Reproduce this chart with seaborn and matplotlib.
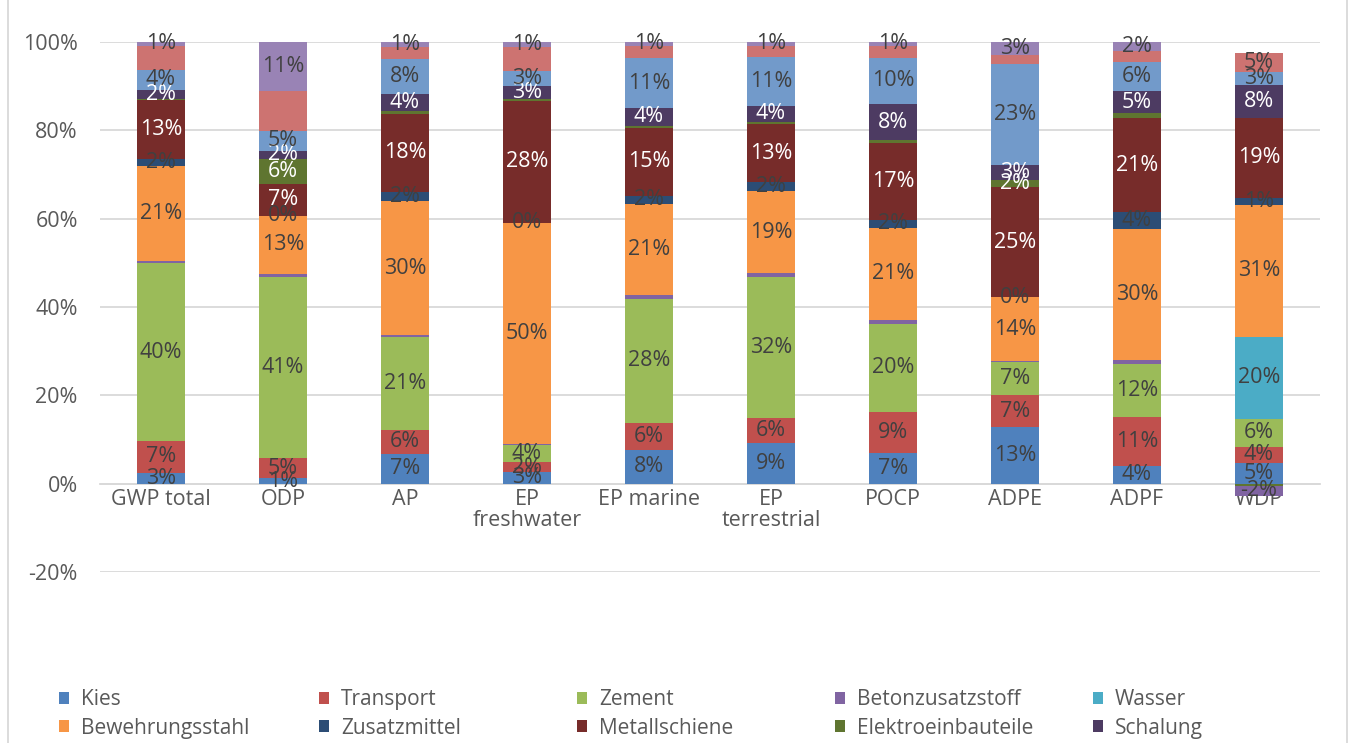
import numpy as np
import matplotlib
matplotlib.use("Agg")
import matplotlib.pyplot as plt
import seaborn as sns
from matplotlib.patches import Patch
from matplotlib.lines import Line2D

categories = ["GWP total", "ODP", "AP", "EP\nfreshwater", "EP marine",
              "EP\nterrestrial", "POCP", "ADPE", "ADPF", "WDP"]

# shares in % per impact category
kies      = [2.5, 1.2, 6.7, 2.6, 7.6, 9.1, 7.0, 12.8, 4.0, 4.7]
transport = [7.1, 4.6, 5.5, 2.3, 6.2, 5.7, 9.3, 7.2, 11.2, 3.6]
zement    = [40.4, 41.0, 20.9, 3.8, 28.1, 32.0, 19.8, 7.5, 11.9, 6.4]
betonzus  = [0.4, 0.6, 0.45, 0.3, 0.8, 0.8, 0.9, 0.2, 0.8, -2.2]
wasser    = [0, 0, 0, 0, 0, 0, 0, 0, 0, 18.6]
bewehrung = [21.5, 13.3, 30.5, 50.1, 20.7, 18.6, 21.0, 14.5, 29.7, 29.8]
zusatz    = [1.5, 0, 2.1, 0, 1.7, 2.0, 1.8, 0, 3.8, 1.5]
metall    = [13.4, 7.1, 17.6, 27.5, 15.5, 13.3, 17.3, 25.0, 21.4, 18.3]
elektro   = [0.3, 5.7, 0.6, 0.6, 0.4, 0.45, 0.6, 1.6, 1.2, -0.5]
schalung  = [2.0, 1.9, 3.8, 2.8, 4.1, 3.6, 8.3, 3.3, 4.8, 7.3]
strom     = [4.6, 4.5, 8.0, 3.4, 11.2, 11.1, 10.4, 22.9, 6.6, 3.0]
waerme    = [5.5, 8.9, 2.75, 5.5, 2.9, 2.5, 2.8, 2.1, 2.5, 4.4]
entsorg   = [0.8, 11.2, 1.1, 1.1, 0.8, 0.8, 0.8, 2.9, 2.0, 0]

# data labels as printed in the chart ("" = no label)
lab_kies      = ["3%", "1%", "7%", "3%", "8%", "9%", "7%", "13%", "4%", "5%"]
lab_transport = ["7%", "5%", "6%", "2%", "6%", "6%", "9%", "7%", "11%", "4%"]
lab_zement    = ["40%", "41%", "21%", "4%", "28%", "32%", "20%", "7%", "12%", "6%"]
lab_betonzus  = ["", "", "", "", "", "", "", "", "", "-2%"]
lab_wasser    = ["", "", "", "", "", "", "", "", "", "20%"]
lab_bewehrung = ["21%", "13%", "30%", "50%", "21%", "19%", "21%", "14%", "30%", "31%"]
lab_zusatz    = ["2%", "0%", "2%", "0%", "2%", "2%", "2%", "0%", "4%", "1%"]
lab_metall    = ["13%", "7%", "18%", "28%", "15%", "13%", "17%", "25%", "21%", "19%"]
lab_elektro   = ["", "6%", "", "", "", "", "", "2%", "", ""]
lab_schalung  = ["2%", "2%", "4%", "3%", "4%", "4%", "8%", "3%", "5%", "8%"]
lab_strom     = ["4%", "5%", "8%", "3%", "11%", "11%", "10%", "23%", "6%", "3%"]
lab_waerme    = ["", "", "", "", "", "", "", "", "", "5%"]
lab_entsorg   = ["1%", "11%", "1%", "1%", "1%", "1%", "1%", "3%", "2%", ""]

series = [
    ("Kies", kies, lab_kies, "#4F81BD", False),
    ("Transport", transport, lab_transport, "#C0504D", False),
    ("Zement", zement, lab_zement, "#9BBB59", False),
    ("Betonzusatzstoff", betonzus, lab_betonzus, "#8064A2", False),
    ("Wasser", wasser, lab_wasser, "#4BACC6", False),
    ("Bewehrungsstahl", bewehrung, lab_bewehrung, "#F79646", False),
    ("Zusatzmittel", zusatz, lab_zusatz, "#2C4D75", False),
    ("Metallschiene", metall, lab_metall, "#772C2A", True),
    ("Elektroeinbauteile", elektro, lab_elektro, "#5F7530", True),
    ("Schalung", schalung, lab_schalung, "#4D3B62", True),
    ("Strom", strom, lab_strom, "#729ACA", False),
    ("Wärme", waerme, lab_waerme, "#CD7371", False),
    ("Entsorgung", entsorg, lab_entsorg, "#9983B5", False),
]

sns.set_theme(style="white")
plt.rcParams["font.family"] = ["Open Sans", "DejaVu Sans"]

fig = plt.figure(figsize=(13.52, 7.43), dpi=100)
ax = fig.add_axes([100 / 1352, 1 - 572 / 743, 1220 / 1352, 530 / 743])

x = np.arange(len(categories))
pos_bottom = np.zeros(len(categories))
neg_bottom = np.zeros(len(categories))
width = 0.4

segments = []
for name, vals, labs, col, light_text in series:
    vals = np.array(vals, dtype=float)
    pos = np.where(vals > 0, vals, 0)
    ax.bar(x, pos, width, bottom=pos_bottom, color=col, linewidth=0, zorder=3)
    for i in range(len(x)):
        if vals[i] >= 0:
            segments.append((x[i], pos_bottom[i] + vals[i] / 2, labs[i], light_text))
    pos_bottom += pos

# negative parts stack downward, last series first (as in the chart)
for name, vals, labs, col, light_text in reversed(series):
    vals = np.array(vals, dtype=float)
    neg = np.where(vals < 0, vals, 0)
    if not neg.any():
        continue
    ax.bar(x, neg, width, bottom=neg_bottom, color=col, linewidth=0, zorder=3)
    for i in range(len(x)):
        if vals[i] < 0:
            segments.append((x[i], neg_bottom[i] + vals[i] / 2, labs[i], light_text))
    neg_bottom += neg

for xi, yi, txt, light_text in segments:
    if txt:
        ax.text(xi, yi, txt, ha="center", va="center", fontsize=15.5,
                color="white" if light_text else "#404040", zorder=5)

ax.set_xlim(-0.5, len(categories) - 0.5)
ax.set_ylim(-20, 100)
ax.set_yticks(range(-20, 101, 20))
ax.set_yticklabels([f"{v}%" for v in range(-20, 101, 20)])
ax.set_xticks(x)
ax.set_xticklabels(categories)
ax.yaxis.grid(True, color="#D9D9D9", linewidth=1.3, zorder=0)
ax.xaxis.grid(False)
for s in ["top", "right", "left"]:
    ax.spines[s].set_visible(False)
ax.spines["bottom"].set_position(("data", 0))
ax.spines["bottom"].set_color("#D9D9D9")
ax.spines["bottom"].set_linewidth(1.3)
ax.tick_params(axis="y", length=0, pad=16, labelsize=15.5, labelcolor="#595959")
ax.tick_params(axis="x", length=0, pad=4, labelsize=15.5, labelcolor="#595959")
for t in ax.get_xticklabels():
    t.set_linespacing(1.0)

# legend: five columns, two rows, evenly spaced like the original
col_x = [59, 319, 577, 835, 1093]
for j, cx in enumerate(col_x):
    handles = []
    for k in (j, j + 5):
        name, _, _, col, _ = series[k]
        handles.append(Patch(facecolor=col, edgecolor="none", label=name))
    fig.legend(handles=handles, loc="center left",
               bbox_to_anchor=(cx / 1352, 1 - 714 / 743), frameon=False,
               fontsize=15, handlelength=0.5, handleheight=0.5,
               handletextpad=0.55, labelspacing=0.35, borderpad=0,
               borderaxespad=0, labelcolor="#595959")

# outer chart border (sides visible only)
for bx in (8, 1347):
    fig.add_artist(Line2D([bx / 1352, bx / 1352], [0, 1], color="#D9D9D9",
                          linewidth=1.3, transform=fig.transFigure))

fig.savefig("out.png", dpi=100)
